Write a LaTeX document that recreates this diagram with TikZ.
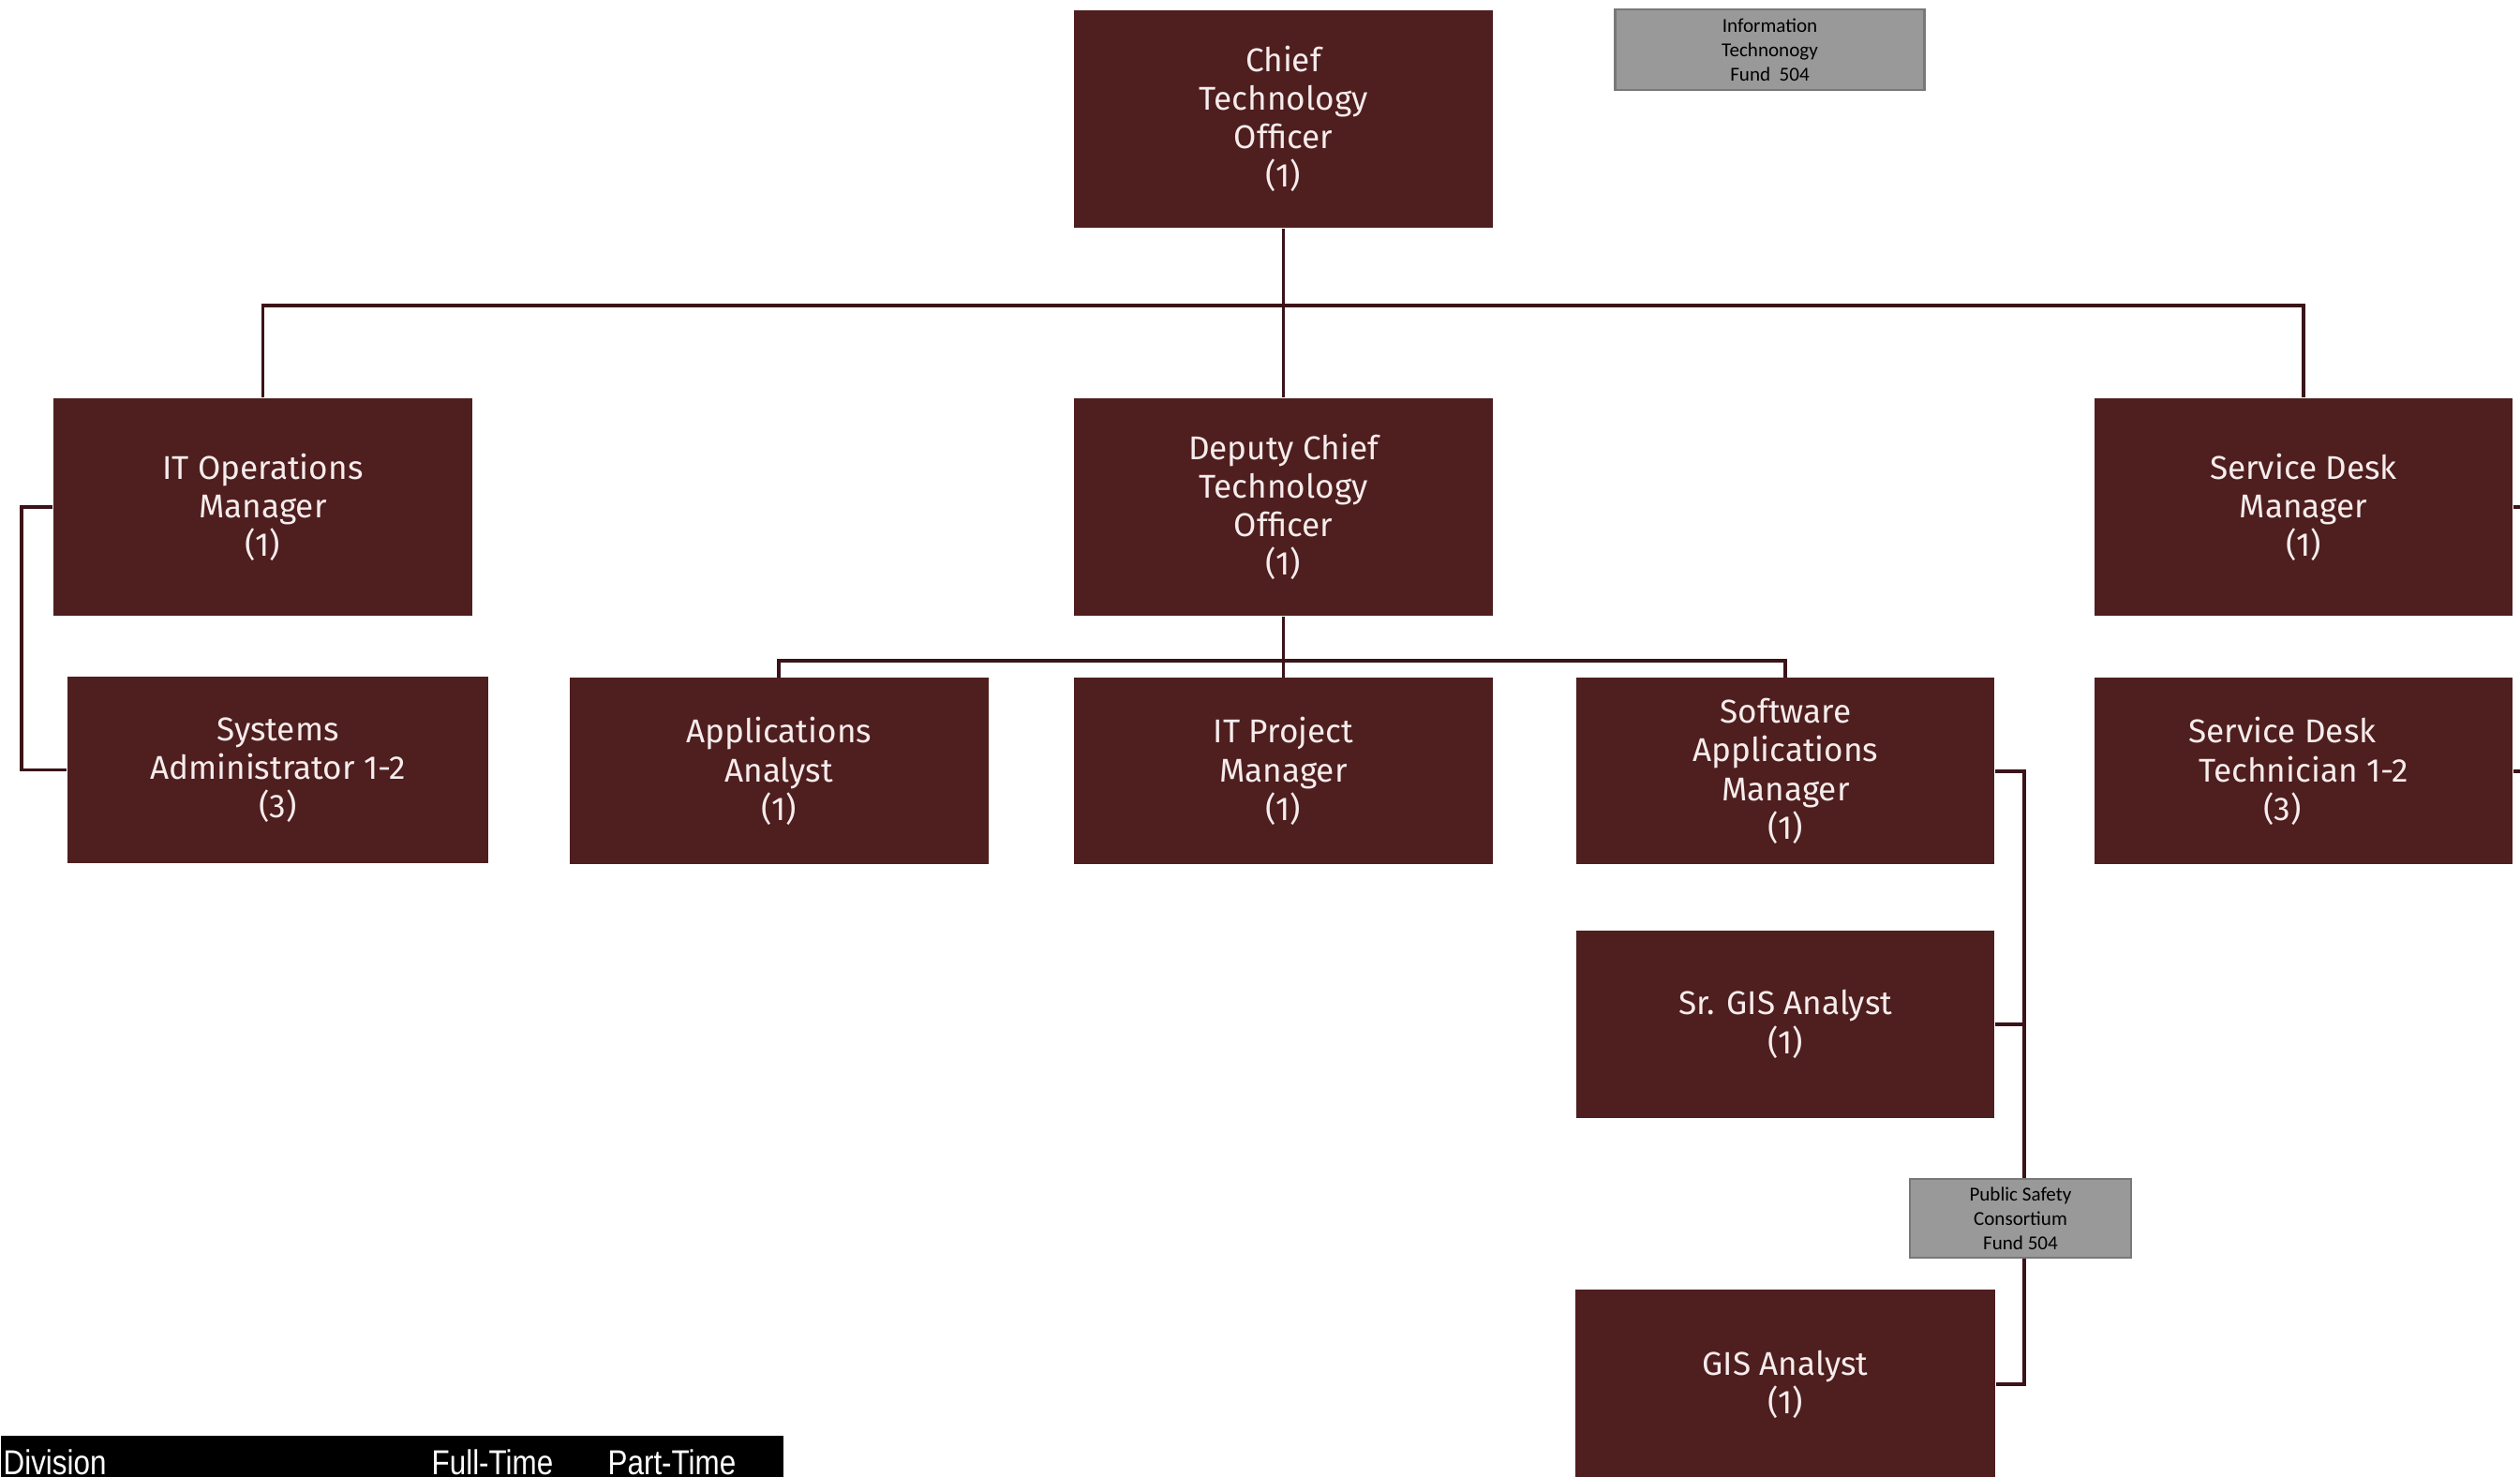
\documentclass[tikz,border=0pt]{standalone}
\usepackage{fontspec}
\setsansfont{Fira Sans}
\newfontfamily\fundfont{Carlito}
\newfontfamily\narrowfont[FakeStretch=0.85]{Liberation Sans}
\usepackage{tikz}
\usetikzlibrary{positioning, calc}
\definecolor{chartmaroon}{RGB}{79, 30, 31}
\definecolor{linemaroon}{RGB}{58, 20, 24}
\definecolor{boxtext}{RGB}{246, 236, 236}
\definecolor{fundgray}{RGB}{153, 153, 153}
\definecolor{fundborder}{RGB}{120, 120, 120}

\begin{document}
\begin{tikzpicture}[
    node distance=0.65cm,
    box/.style={
        rectangle,
        fill=chartmaroon,
        text=boxtext,
        minimum width=4.47cm,
        minimum height=1.99cm,
        inner sep=2pt,
        align=center,
        font=\sffamily\fontsize{10}{11.7}\selectfont
    },
    tallbox/.style={
        box,
        minimum height=2.32cm
    },
    fundbox/.style={
        rectangle,
        draw=fundborder,
        line width=0.6pt,
        fill=fundgray,
        text=black,
        inner sep=1pt,
        align=center,
        font=\fundfont\fontsize{6}{7.4}\selectfont
    },
    link/.style={
        draw=linemaroon,
        line width=1.1pt
    },
    headtext/.style={
        text=white,
        inner sep=0pt,
        anchor=base west,
        font=\narrowfont\fontsize{10.5}{12}\selectfont
    }
]

    \useasboundingbox (0,0) rectangle (26.89,-15.76);
    \clip (0,0) rectangle (26.89,-15.76);

    % Top: CTO and fund label
    \node[tallbox] (cto) at (13.695,-1.27) {Chief\\Technology\\Officer\\(1)};
    \node[fundbox, minimum width=3.3cm, minimum height=0.86cm] (itfund) at (18.885,-0.53) {Information\\Technonogy\\Fund\ \ 504};

    % Second row: managers
    \node[tallbox] (itops) at (2.805,-5.41) {IT Operations\\Manager\\(1)};
    \node[tallbox] (deputy) at (13.695,-5.41) {Deputy Chief\\Technology\\Officer\\(1)};
    \node[tallbox, minimum width=4.46cm] (sdmgr) at (24.58,-5.41) {Service Desk\\Manager\\(1)};

    % Third row
    \node[box, minimum width=4.49cm] (sysadmin) at (2.965,-8.215) {Systems\\Administrator 1-2\\(3)};
    \node[box, below=0.65cm of deputy] (itpm) {IT Project\\Manager\\(1)};
    \node[box, left=0.9cm of itpm] (appanalyst) {Applications\\Analyst\\(1)};
    \node[box, minimum width=4.46cm, right=0.88cm of itpm] (swmgr) {Software\\Applications\\Manager\\(1)};
    \node[box, minimum width=4.46cm, below=0.65cm of sdmgr] (sdtech) {Service Desk\hspace*{0.45cm}\\Technician 1-2\hspace*{0.45cm}\\(3)\hspace*{0.45cm}};

    % GIS branch
    \node[box, minimum width=4.46cm, minimum height=2.0cm, below=0.69cm of swmgr] (srgis) {Sr. GIS Analyst\\(1)};
    \node[box, minimum width=4.48cm, minimum height=2.02cm] (gis) at (19.05,-14.77) {GIS Analyst\\(1)};

    % Connectors
    \coordinate (topbus) at (13.695,-3.26);
    \coordinate (depbus) at (13.695,-7.05);
    \coordinate (gisspine) at (21.6,-8.2);
    \draw[link] (cto.south) -- (deputy.north);
    \draw[link] (itops.north) |- (topbus) -| (sdmgr.north);
    \draw[link] (deputy.south) -- (itpm.north);
    \draw[link] (appanalyst.north) |- (depbus) -| (swmgr.north);
    \draw[link] (itops.west) -- ++(-0.33,0) |- (sysadmin.west);
    \draw[link] (swmgr.east) -- (swmgr.east -| gisspine) |- (gis.east);
    \draw[link] (srgis.east) -- (srgis.east -| gisspine);
    \draw[link] (sdmgr.east) -- ++(0.4,0) |- (sdtech.east);

    % Fund label on the GIS line
    \node[fundbox, minimum width=2.36cm, minimum height=0.84cm] (psfund) at (21.56,-13.0) {Public Safety\\Consortium\\Fund 504};

    % Table header
    \node[rectangle, fill=black, minimum width=8.35cm, minimum height=0.5cm, inner sep=0pt, anchor=north west] (tablehead) at (0,-15.31) {};
    \node[headtext] (divhead) at (0.03,-15.73) {Division};
    \node[headtext] (fthead) at (4.6,-15.73) {Full-Time};
    \node[headtext] (pthead) at (6.48,-15.73) {Part-Time};

\end{tikzpicture}
\end{document}
